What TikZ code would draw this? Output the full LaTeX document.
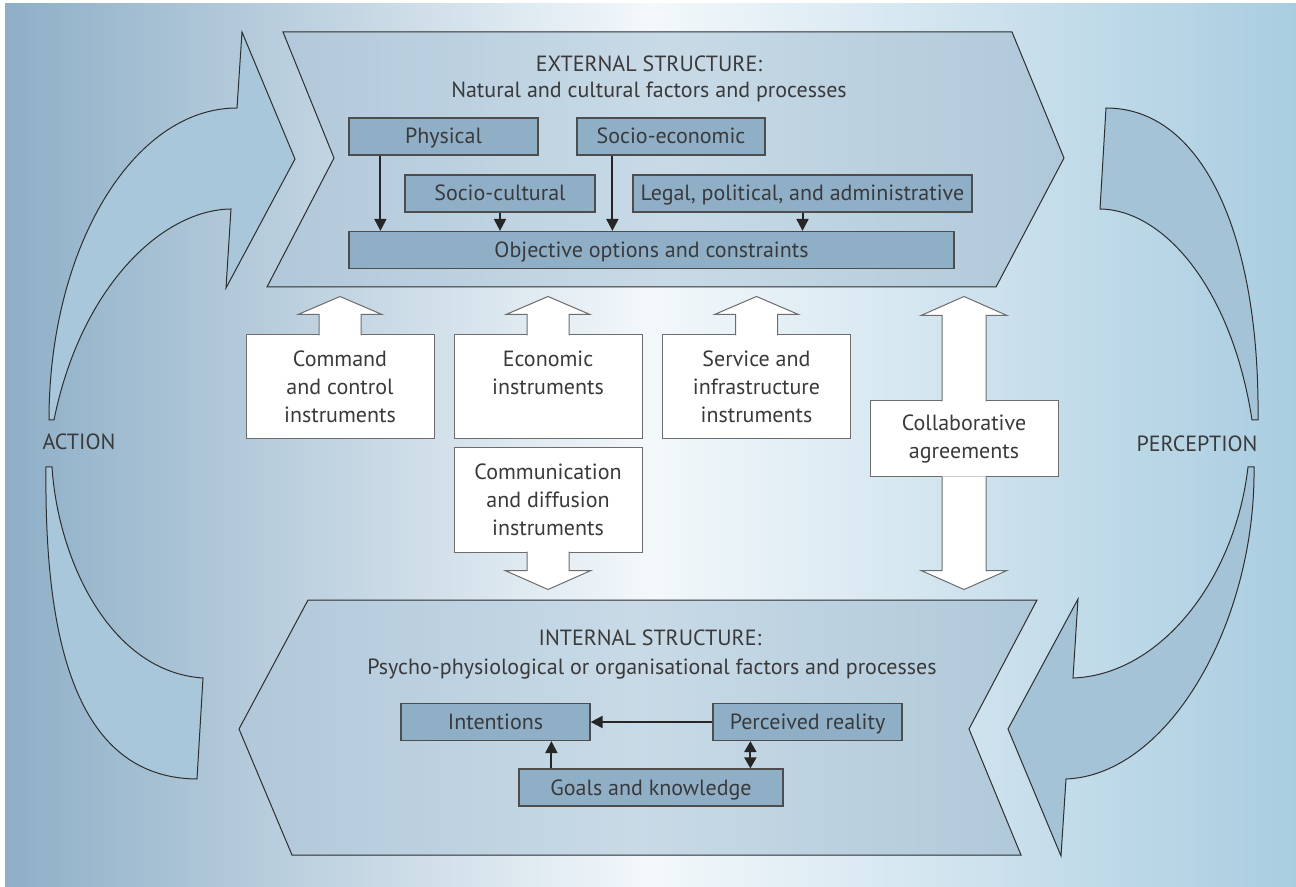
\documentclass[tikz,border=0pt]{standalone}
\usepackage{fontspec}
\setmainfont{PT Sans}
\usetikzlibrary{arrows.meta, calc}

\definecolor{bgleft}{HTML}{8EAFC7}
\definecolor{bgmid}{HTML}{F3F8FB}
\definecolor{bgright}{HTML}{A9CDE0}
\definecolor{chevleft}{HTML}{B1C8DA}
\definecolor{chevmid}{HTML}{C8DAE6}
\definecolor{chevright}{HTML}{AFC8D9}
\definecolor{swooshl}{HTML}{A8C7DA}
\definecolor{swooshr}{HTML}{A4C3D7}
\definecolor{factorfill}{HTML}{8FAFC6}
\definecolor{ink}{HTML}{3A3A3A}
\definecolor{rim}{HTML}{2E2E2E}

\begin{document}
\begin{tikzpicture}[x=0.5pt, y=-0.5pt,
    txt/.style={font=\fontsize{11}{14}\selectfont, text=ink},
    factor/.style={txt, draw=rim!85, fill=factorfill, line width=0.6pt, minimum height=18.5pt, inner sep=0pt, text height=9pt, text depth=1.5pt},
    instr/.style={txt, draw=rim!70, fill=white, line width=0.5pt, minimum width=94pt, align=center, inner sep=0pt},
    blockarrow/.style={draw=rim!70, fill=white, line width=0.5pt},
    chevron/.style={draw=rim, line width=0.5pt, left color=chevleft, right color=chevright, middle color=chevmid},
    swirl/.style={draw=rim, line width=0.5pt},
    conn/.style={-{Triangle[length=6pt,width=6pt]}, line width=1pt, black!85},
    biconn/.style={{Triangle[length=5.5pt,width=6pt]}-{Triangle[length=5.5pt,width=6pt]}, line width=1pt, black!85}]

  \useasboundingbox (0,0) rectangle (1296,887);
  \fill[left color=bgleft, right color=bgright, middle color=bgmid] (5,4) rectangle (1296,887);

  % action swoosh
  \filldraw[swirl, fill=swooshl] (237,108) -- (242,32) -- (295,159) -- (226,288) -- (231,209)
     .. controls (160,210) and (80,290) .. (54,420) -- (49,420)
     .. controls (49,248) and (133,108) .. (237,108) -- cycle;
  \filldraw[swirl, fill=swooshl] (46,467) -- (52,467) .. controls (58,560) and (110,672) .. (203,678)
     -- (197,779) .. controls (80,778) and (44,650) .. (46,467) -- cycle;
  % perception swoosh
  \filldraw[swirl, fill=swooshr] (1106,108) -- (1100,209) .. controls (1165,210) and (1232,290) .. (1252,420)
     -- (1258,420) .. controls (1260,240) and (1205,108) .. (1106,108) -- cycle;
  \filldraw[swirl, fill=swooshr] (1248,467) -- (1254,467) .. controls (1256,620) and (1170,775) .. (1066,779)
     -- (1061,856) -- (1008,729) -- (1078,599) -- (1073,678)
     .. controls (1160,675) and (1235,580) .. (1248,467) -- cycle;

  % the two structures
  \draw[chevron] (283,32) -- (1012,32) -- (1064,158) -- (996,287) -- (267,287) -- (334,158) -- cycle;
  \draw[chevron] (308,600) -- (1037,600) -- (969,729) -- (1021,855) -- (292,855) -- (239,729) -- cycle;

  \node[txt] (ext) at (649,64) {EXTERNAL STRUCTURE:};
  \node[txt] (extsub) at (649,92) {Natural and cultural factors and processes};
  \node[txt] (int) at (650,638) {INTERNAL STRUCTURE:};
  \node[txt] (intsub) at (652,669) {Psycho-physiological or organisational factors and processes};

  \node[txt] (action) at (79,442) {ACTION};
  \node[txt] (perception) at (1197,444) {PERCEPTION};

  % external factors
  \node[factor, minimum width=94.5pt] (phys) at (443.5,136.5) {Physical};
  \node[factor, minimum width=94pt] (soceco) at (671,136.5) {Socio-economic};
  \node[factor, minimum width=95pt] (soccult) at (500,193.5) {Socio-cultural};
  \node[factor, minimum width=169.5pt] (legal) at (802.5,193.5) {Legal, political, and administrative};
  \node[factor, minimum width=302.5pt] (obj) at (651.5,250) {Objective options and constraints};

  \coordinate (physout) at ($(phys.south west)+(32,0)$);
  \coordinate (socecoout) at ($(soceco.south west)+(36,0)$);
  \draw[conn] (physout) -- (physout |- obj.north);
  \draw[conn] (soccult.south) -- (soccult.south |- obj.north);
  \draw[conn] (socecoout) -- (socecoout |- obj.north);
  \draw[conn] (legal.south) -- (legal.south |- obj.north);

  % internal factors
  \node[factor, minimum width=94.5pt] (intent) at (495.5,722) {Intentions};
  \node[factor, minimum width=94.5pt] (perc) at (807.5,722) {Perceived reality};
  \node[factor, minimum width=132pt] (goals) at (651,787.5) {Goals and knowledge};

  \coordinate (goalsout) at ($(goals.north west)+(33,0)$);
  \coordinate (percout) at ($(perc.south west)+(38,0)$);
  \draw[conn] (perc.west) -- (intent.east);
  \draw[conn] (goalsout) -- (goalsout |- intent.south);
  \draw[biconn] (percout) -- (percout |- goals.north);

  % instruments
  \node[instr, minimum height=52pt] (cmd) at (340,387) {Command\\and control\\instruments};
  \node[instr, minimum height=52pt] (econ) at (548,387) {Economic\\instruments\\\mbox{}};
  \node[instr, minimum height=52pt] (serv) at (756.5,387) {Service and\\infrastructure\\instruments};
  \node[instr, minimum height=52pt] (comm) at (548,500) {Communication\\and diffusion\\instruments};
  \node[instr, minimum height=38pt] (collab) at (964,439) {Collaborative\\agreements};

  \draw[blockarrow] ($(cmd.north)+(-21,1)$) -- ++(0,-21) -- ++(-21,0) -- ++(42,-18) -- ++(42,18) -- ++(-21,0) -- ++(0,21);
  \draw[blockarrow] ($(econ.north)+(-21,1)$) -- ++(0,-21) -- ++(-21,0) -- ++(42,-18) -- ++(42,18) -- ++(-21,0) -- ++(0,21);
  \draw[blockarrow] ($(serv.north)+(-21,1)$) -- ++(0,-21) -- ++(-21,0) -- ++(42,-18) -- ++(42,18) -- ++(-21,0) -- ++(0,21);
  \draw[blockarrow] ($(comm.south)+(-21,-1)$) -- ++(0,19) -- ++(-22,0) -- ++(43,19) -- ++(43,-19) -- ++(-22,0) -- ++(0,-19);
  \draw[blockarrow] ($(collab.north)+(-22,1)$) -- ++(0,-86) -- ++(-21,0) -- ++(43,-19) -- ++(43,19) -- ++(-21,0) -- ++(0,86);
  \draw[blockarrow] ($(collab.south)+(-22,-1)$) -- ++(0,94) -- ++(-21,0) -- ++(43,19) -- ++(43,-19) -- ++(-21,0) -- ++(0,-94);
\end{tikzpicture}
\end{document}
